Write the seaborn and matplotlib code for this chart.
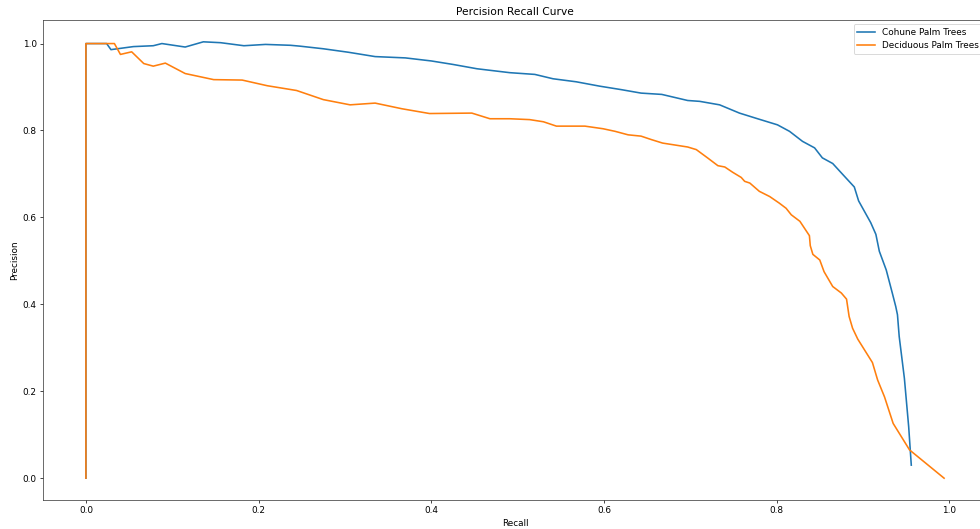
import pandas as pd
import matplotlib
matplotlib.use("Agg")
import matplotlib.pyplot as plt
import seaborn as sns

# Precision-recall points
cohune_recall = [0.0, 0.0, 0.024, 0.029, 0.055, 0.078, 0.088, 0.115, 0.136, 0.156,
                 0.183, 0.208, 0.237, 0.248, 0.275, 0.304, 0.335, 0.370, 0.400, 0.425,
                 0.453, 0.491, 0.520, 0.541, 0.568, 0.595, 0.620, 0.643, 0.667, 0.697,
                 0.711, 0.734, 0.757, 0.778, 0.801, 0.815, 0.830, 0.844, 0.853, 0.865,
                 0.877, 0.890, 0.895, 0.909, 0.915, 0.919, 0.927, 0.934, 0.938, 0.940,
                 0.942, 0.948, 0.953, 0.956]
cohune_precision = [0.0, 1.0, 1.0, 0.986, 0.993, 0.995, 1.000, 0.992, 1.004, 1.002,
                    0.995, 0.998, 0.996, 0.994, 0.988, 0.980, 0.970, 0.967, 0.960, 0.952,
                    0.942, 0.933, 0.929, 0.919, 0.912, 0.902, 0.894, 0.886, 0.883, 0.869,
                    0.867, 0.859, 0.840, 0.827, 0.813, 0.798, 0.775, 0.760, 0.737, 0.724,
                    0.698, 0.670, 0.638, 0.588, 0.561, 0.522, 0.479, 0.426, 0.395, 0.376,
                    0.326, 0.230, 0.118, 0.030]

deciduous_recall = [0.0, 0.0, 0.033, 0.040, 0.053, 0.067, 0.078, 0.092, 0.115, 0.148,
                    0.181, 0.210, 0.244, 0.275, 0.306, 0.335, 0.366, 0.398, 0.447, 0.468,
                    0.491, 0.514, 0.530, 0.545, 0.578, 0.599, 0.613, 0.628, 0.643, 0.655,
                    0.668, 0.697, 0.707, 0.720, 0.732, 0.740, 0.749, 0.759, 0.763, 0.769,
                    0.780, 0.792, 0.803, 0.811, 0.817, 0.827, 0.838, 0.839, 0.842, 0.850,
                    0.855, 0.865, 0.875, 0.881, 0.884, 0.888, 0.894, 0.911, 0.917, 0.925,
                    0.935, 0.954, 0.994]
deciduous_precision = [0.0, 1.0, 1.0, 0.975, 0.981, 0.954, 0.948, 0.955, 0.931, 0.917,
                       0.916, 0.903, 0.892, 0.871, 0.859, 0.863, 0.850, 0.839, 0.840, 0.827,
                       0.827, 0.825, 0.820, 0.810, 0.810, 0.804, 0.798, 0.790, 0.787, 0.779,
                       0.771, 0.762, 0.756, 0.737, 0.719, 0.716, 0.704, 0.692, 0.683, 0.679,
                       0.660, 0.648, 0.633, 0.621, 0.606, 0.591, 0.558, 0.535, 0.515, 0.502,
                       0.475, 0.441, 0.426, 0.412, 0.372, 0.345, 0.320, 0.266, 0.226, 0.187,
                       0.126, 0.065, 0.0]

labels = ["Cohune Palm Trees", "Deciduous Palm Trees"]


def main():
    df = pd.concat([
        pd.DataFrame({"Recall": cohune_recall, "Precision": cohune_precision, "Class": labels[0]}),
        pd.DataFrame({"Recall": deciduous_recall, "Precision": deciduous_precision, "Class": labels[1]}),
    ], ignore_index=True)

    # original was saved at a low dpi, so keep default font sizes and scale with dpi
    fig = plt.figure(figsize=(980 / 64, 529 / 64), dpi=64)
    ax = fig.add_axes([43 / 980, 29 / 529, 944 / 980, 480 / 529])

    sns.lineplot(data=df, x="Recall", y="Precision", hue="Class", sort=False,
                 estimator=None, palette=["#1f77b4", "#ff7f0e"], linewidth=1.8, ax=ax)

    ax.set_title("Percision Recall Curve")
    ax.legend(loc="upper right")
    for s in ax.spines.values():
        s.set_color("#333333")

    fig.savefig("out.png", dpi=64)


if __name__ == "__main__":
    main()
